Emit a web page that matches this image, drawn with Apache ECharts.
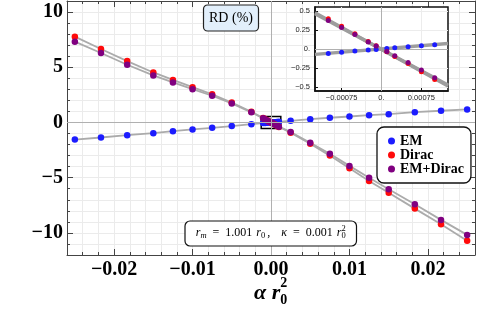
<!DOCTYPE html>
<html>
<head>
<meta charset="utf-8">
<script src="https://cdn.jsdelivr.net/npm/echarts@6/dist/echarts.min.js"></script>
<style>
html,body{margin:0;padding:0;background:#fff;}
#chart{width:478px;height:313px;}
</style>
</head>
<body>
<div id="chart"></div>
<script>
// ---------- data ----------
const seriesNames = ['EM', 'Dirac', 'EM+Dirac'];
const xMain = [-0.025, -0.02167, -0.01833, -0.015, -0.0125, -0.01, -0.0075, -0.005, -0.0025,
               0.0025, 0.005, 0.0075, 0.01, 0.0125, 0.015, 0.01833, 0.02167, 0.025];
const emMain = [-1.55, -1.36, -1.15, -0.97, -0.79, -0.63, -0.48, -0.33, -0.15,
                0.15, 0.30, 0.43, 0.54, 0.66, 0.75, 0.93, 1.06, 1.18];
const diracMain = [7.77, 6.65, 5.56, 4.53, 3.85, 3.2, 2.55, 1.81, 0.97,
                   -0.92, -1.93, -3.0, -4.15, -5.29, -6.37, -7.8, -9.22, -10.7];
const emDiracMain = [7.32, 6.29, 5.23, 4.26, 3.63, 3.02, 2.42, 1.72, 0.92,
                     -0.87, -1.83, -2.84, -3.93, -5.0, -6.04, -7.4, -8.82, -10.18];

const xInset = [-0.001, -0.00075, -0.0005, -0.00025, -0.0001, 0.0001, 0.00025, 0.0005, 0.00075, 0.001];
const emInset = [-0.058, -0.044, -0.027, -0.013, -0.005, 0.005, 0.017, 0.031, 0.044, 0.057];
const diracInset = [0.396, 0.297, 0.2, 0.097, 0.044, -0.036, -0.097, -0.19, -0.297, -0.4];
const emDiracInset = [0.373, 0.28, 0.19, 0.093, 0.04, -0.034, -0.09, -0.177, -0.276, -0.377];

// gray guide lines in the inset (end points read at the inset edges)
const xInsetLine = [-0.00125, 0.00125];
const emInsetLine = [-0.07, 0.072];
const diracInsetLine = [0.475, -0.485];
const emDiracInsetLine = [0.46, -0.47];

// tick labels
const xMainTicks = [-0.02, -0.01, 0, 0.01, 0.02];
const yMainTicks = [-10, -5, 0, 5, 10];
const xInsetTicks = [-0.00075, 0, 0.00075];
const yInsetTicks = [-0.5, -0.25, 0, 0.25, 0.5];

// ---------- layout / style ----------
const X_MIN = -0.026, X_MAX = 0.026, X_MINOR = 0.002;
const Y_MIN = -12, Y_MAX = 11, Y_MINOR = 1;
const IX = 0.00125, IY = 0.55;
const colors = ['#1c1cff', '#ff0a0a', '#800080'];
const serif = 'Liberation Serif';
const frameColor = '#444';

function pairs(xs, ys) { return xs.map((x, i) => [x, ys[i]]); }
function merged(xa, ya, xb, yb) {
  const p = pairs(xa, ya).concat(pairs(xb, yb));
  p.sort((a, b) => a[0] - b[0]);
  return p;
}
function fmt(v, d) {
  const s = Math.abs(v).toFixed(d);
  return v < -1e-12 ? '\u2212' + s : s;
}
function fmtInset(v) {
  if (Math.abs(v) < 1e-12) return '0.';
  let s = String(Math.abs(v));
  return v < 0 ? '\u2212' + s : s;
}

const mainData = [
  merged(xMain, emMain, xInset, emInset),
  merged(xMain, diracMain, xInset, diracInset),
  merged(xMain, emDiracMain, xInset, emDiracInset)
];
const insetPts = [pairs(xInset, emInset), pairs(xInset, diracInset), pairs(xInset, emDiracInset)];
const insetLines = [pairs(xInsetLine, emInsetLine), pairs(xInsetLine, diracInsetLine), pairs(xInsetLine, emDiracInsetLine)];

const labelFont = { fontFamily: serif, fontWeight: 'bold', fontSize: 20, color: '#000' };
const insetLabelFont = { fontFamily: 'Liberation Sans', fontSize: 7.5, color: '#222' };

function mainX(pos, withLabels) {
  return {
    type: 'value', gridIndex: 0, position: pos, min: X_MIN, max: X_MAX, interval: X_MINOR,
    axisLine: { show: true, onZero: false, lineStyle: { color: frameColor, width: 1 } },
    axisTick: { show: true, inside: true, length: 3, lineStyle: { color: frameColor } },
    axisLabel: withLabels ? Object.assign({
      show: true, interval: 0, margin: 5,
      formatter: (v) => { const k = Math.round(v / X_MINOR); return k % 5 === 0 ? fmt(k * X_MINOR, 2) : ''; }
    }, labelFont) : { show: false },
    splitLine: { show: withLabels, lineStyle: { color: '#ebebeb', width: 1 } }
  };
}
function mainXMajor(pos) {
  return {
    type: 'value', gridIndex: 0, position: pos, min: X_MIN, max: X_MAX,
    axisLine: { show: false, onZero: false },
    axisTick: { show: true, inside: true, length: 6, customValues: xMainTicks, lineStyle: { color: frameColor } },
    axisLabel: { show: false }, splitLine: { show: false }
  };
}
function mainY(pos, withLabels) {
  return {
    type: 'value', gridIndex: 0, position: pos, min: Y_MIN, max: Y_MAX, interval: Y_MINOR,
    axisLine: { show: true, onZero: false, lineStyle: { color: frameColor, width: 1 } },
    axisTick: { show: true, inside: true, length: 3, lineStyle: { color: frameColor } },
    axisLabel: withLabels ? Object.assign({
      show: true, interval: 0, margin: 4,
      formatter: (v) => { const k = Math.round(v); return k % 5 === 0 ? fmt(k, 0) : ''; }
    }, labelFont) : { show: false },
    splitLine: { show: withLabels, lineStyle: { color: '#ebebeb', width: 1 } }
  };
}
function mainYMajor(pos) {
  return {
    type: 'value', gridIndex: 0, position: pos, min: Y_MIN, max: Y_MAX,
    axisLine: { show: false, onZero: false },
    axisTick: { show: true, inside: true, length: 6, customValues: yMainTicks, lineStyle: { color: frameColor } },
    axisLabel: { show: false }, splitLine: { show: false }
  };
}

const series = [];
// zero lines of the main frame
series.push({
  type: 'line', xAxisIndex: 0, yAxisIndex: 0, data: [], z: 1, silent: true,
  markLine: { silent: true, symbol: 'none', label: { show: false },
    lineStyle: { color: '#b0b0b0', width: 1, type: 'solid' },
    data: [{ yAxis: 0 }, { xAxis: 0 }] }
});
// gray connecting lines (main)
mainData.forEach((d) => series.push({
  type: 'line', xAxisIndex: 0, yAxisIndex: 0, data: d, showSymbol: false, silent: true, z: 2,
  lineStyle: { color: '#ababab', width: 1.8 }
}));
// points (main)
mainData.forEach((d, i) => series.push({
  name: seriesNames[i], type: 'scatter', xAxisIndex: 0, yAxisIndex: 0, data: d, z: 3,
  symbol: 'circle', symbolSize: 6.5, itemStyle: { color: colors[i], opacity: 1 },
  markArea: i === 2 ? { silent: true,
    itemStyle: { color: 'rgba(0,0,0,0)', borderColor: '#000', borderWidth: 1.5 },
    data: [[{ coord: [-IX, -IY] }, { coord: [IX, IY] }]] } : undefined
}));
// inset zero lines
series.push({
  type: 'line', xAxisIndex: 4, yAxisIndex: 4, data: [], z: 4, silent: true,
  markLine: { silent: true, symbol: 'none', label: { show: false },
    lineStyle: { color: '#b0b0b0', width: 1, type: 'solid' },
    data: [{ yAxis: 0 }, { xAxis: 0 }] }
});
// inset gray lines
insetLines.forEach((d) => series.push({
  type: 'line', xAxisIndex: 4, yAxisIndex: 4, data: d, showSymbol: false, silent: true, z: 5,
  lineStyle: { color: '#9d9d9d', width: 3.4 }
}));
// inset points
insetPts.forEach((d, i) => series.push({
  name: seriesNames[i], type: 'scatter', xAxisIndex: 4, yAxisIndex: 4, data: d, z: 6,
  symbol: 'circle', symbolSize: 5, itemStyle: { color: colors[i], opacity: 1 }
}));

// ---------- text graphics ----------
const mctx = document.createElement('canvas').getContext('2d');
function tw(font, s) { mctx.font = font; return mctx.measureText(s).width; }

const graphics = [];
// RD (%) box
graphics.push({ type: 'rect', shape: { x: 203.5, y: 5, width: 55, height: 26, r: 4 },
  style: { fill: '#e2effb', stroke: '#222', lineWidth: 1.2 }, z: 20 });
graphics.push({ type: 'text', x: 231, y: 18.3,
  style: { text: 'RD (%)', font: '14px "Liberation Serif"', fill: '#000', align: 'center', verticalAlign: 'middle' }, z: 21 });

// parameter box
graphics.push({ type: 'rect', shape: { x: 185, y: 221, width: 171.5, height: 25, r: 5 },
  style: { fill: '#fff', stroke: '#111', lineWidth: 1.2 }, z: 20 });
(function () {
  const fI = 'italic 12px "Liberation Serif"', fR = '12px "Liberation Serif"', fS = 'italic 8.5px "Liberation Serif"', fSR = '8.5px "Liberation Serif"';
  const segs = [
    { t: 'r', f: fI, dy: 0 }, { t: 'm', f: fS, dy: 3 }, { gap: 6 },
    { t: '=', f: fR, dy: 0 }, { gap: 6 }, { t: '1.001', f: fR, dy: 0 }, { gap: 4 },
    { t: 'r', f: fI, dy: 0 }, { t: '0', f: fSR, dy: 3 }, { gap: 2 }, { t: ',', f: fR, dy: 0 }, { gap: 11 },
    { t: '\u03BA', f: fI, dy: 0 }, { gap: 6 }, { t: '=', f: fR, dy: 0 }, { gap: 6 },
    { t: '0.001', f: fR, dy: 0 }, { gap: 4 }, { t: 'r', f: fI, dy: 0 }, { t: '0', f: fSR, dy: 3, sup: '2' }
  ];
  let total = 0;
  segs.forEach(s => { s.w = s.gap != null ? s.gap : tw(s.f, s.t); total += s.w; });
  let x = 270.75 - total / 2;
  const yMid = 233;
  segs.forEach(s => {
    if (s.gap == null) {
      graphics.push({ type: 'text', x: x, y: yMid + s.dy,
        style: { text: s.t, font: s.f, fill: '#000', align: 'left', verticalAlign: 'middle' }, z: 21 });
      if (s.sup) graphics.push({ type: 'text', x: x, y: yMid - 4.5,
        style: { text: s.sup, font: fSR, fill: '#000', align: 'left', verticalAlign: 'middle' }, z: 21 });
    }
    x += s.w;
  });
})();

// x axis title  α r_0^2
(function () {
  const fMain = 'italic bold 22px "Liberation Serif"', fSmall = 'bold 14px "Liberation Serif"';
  const t = '\u03B1 r';
  const w = tw(fMain, t);
  const x0 = 254;
  graphics.push({ type: 'text', x: x0, y: 293,
    style: { text: t, font: fMain, fill: '#000', align: 'left', verticalAlign: 'middle' }, z: 21 });
  graphics.push({ type: 'text', x: x0 + w, y: 283.5,
    style: { text: '2', font: fSmall, fill: '#000', align: 'left', verticalAlign: 'middle' }, z: 21 });
  graphics.push({ type: 'text', x: x0 + w, y: 300.5,
    style: { text: '0', font: fSmall, fill: '#000', align: 'left', verticalAlign: 'middle' }, z: 21 });
})();

const option = {
  animation: false,
  backgroundColor: '#fff',
  grid: [
    { left: 67, top: 1, width: 410, height: 254, show: false },
    { left: 315, top: 7, width: 133, height: 84, show: true, backgroundColor: '#fff',
      borderColor: '#111', borderWidth: 1.5, z: 1 }
  ],
  xAxis: [
    mainX('bottom', true), mainXMajor('bottom'), mainX('top', false), mainXMajor('top'),
    { type: 'value', gridIndex: 1, position: 'bottom', min: -IX, max: IX, z: 3,
      axisLine: { show: true, onZero: false, lineStyle: { color: '#111', width: 1.5 } },
      axisTick: { show: true, inside: true, length: 3, customValues: xInsetTicks, lineStyle: { color: '#111' } },
      axisLabel: Object.assign({ show: true, margin: 3, customValues: xInsetTicks, formatter: fmtInset }, insetLabelFont),
      splitLine: { show: true, lineStyle: { color: '#ececec' } } }
  ],
  yAxis: [
    mainY('left', true), mainYMajor('left'), mainY('right', false), mainYMajor('right'),
    { type: 'value', gridIndex: 1, position: 'left', min: -IY, max: IY, z: 3,
      axisLine: { show: true, onZero: false, lineStyle: { color: '#111', width: 1.5 } },
      axisTick: { show: true, inside: true, length: 3, customValues: yInsetTicks, lineStyle: { color: '#111' } },
      axisLabel: Object.assign({ show: true, margin: 5, customValues: yInsetTicks, formatter: fmtInset }, insetLabelFont),
      splitLine: { show: true, lineStyle: { color: '#ececec' } } }
  ],
  legend: {
    data: seriesNames.map((n, i) => ({ name: n, icon: 'circle', itemStyle: { color: colors[i] } })),
    orient: 'vertical', left: 377, top: 127, z: 10, selectedMode: false,
    backgroundColor: '#fff', borderColor: '#111', borderWidth: 1.3, borderRadius: 7,
    padding: [7, 7, 7, 11], itemGap: 0, itemWidth: 7, itemHeight: 7,
    textStyle: { fontFamily: serif, fontWeight: 'bold', fontSize: 14, color: '#000', lineHeight: 12, padding: [0, 0, 0, 0] }
  },
  graphic: graphics,
  series: series
};

const chart = echarts.init(document.getElementById('chart'), null, { renderer: 'canvas' });
chart.setOption(option);
</script>
</body>
</html>
